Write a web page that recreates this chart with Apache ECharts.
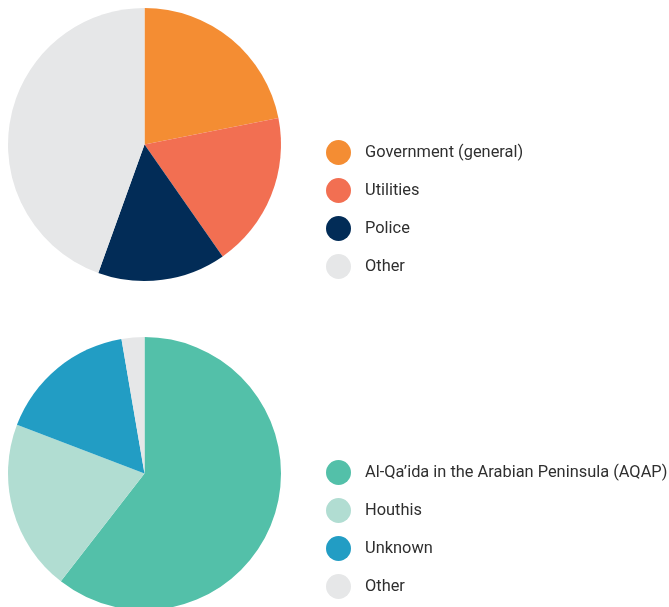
<!DOCTYPE html>
<html>
<head>
<meta charset="utf-8">
<script src="https://cdn.jsdelivr.net/npm/echarts@6/dist/echarts.min.js"></script>
<style>
html,body{margin:0;padding:0;background:#fff;}
#chart{width:669px;height:607px;}
</style>
</head>
<body>
<div id="chart"></div>
<script>
const targetNames = ["Government (general)", "Utilities", "Police", "Other"];
const targetValues = [21.9, 18.4, 15.2, 44.5];
const targetColors = ["#F48D33", "#F26F52", "#022C57", "#E6E7E8"];

const perpNames = ["Al-Qa\u2019ida in the Arabian Peninsula (AQAP)", "Houthis", "Unknown", "Other"];
const perpValues = [60.5, 20.3, 16.5, 2.7];
const perpColors = ["#53C0A9", "#B1DDD2", "#229DC4", "#E6E7E8"];

const font = "Roboto, 'Liberation Sans', sans-serif";

function toData(names, values, colors) {
  return names.map((n, i) => ({ name: n, value: values[i], itemStyle: { color: colors[i] } }));
}

const chart = echarts.init(document.getElementById('chart'), null, { renderer: 'canvas' });
const legendCommon = {
  orient: 'vertical',
  left: 326,
  padding: 0,
  height: 200,
  width: 343,
  icon: 'circle',
  itemWidth: 25,
  itemHeight: 25,
  itemGap: 13,
  selectedMode: false,
  textStyle: { fontFamily: font, fontSize: 16.4, color: '#2f2f2f', padding: [0, 0, 0, 9] }
};
chart.setOption({
  animation: false,
  backgroundColor: '#ffffff',
  legend: [
    Object.assign({}, legendCommon, { top: 140, data: targetNames }),
    Object.assign({}, legendCommon, { top: 460, data: perpNames })
  ],
  series: [
    {
      type: 'pie', name: 'Targets',
      center: [144.5, 144.5], radius: 136.5,
      startAngle: 90, clockwise: true,
      label: { show: false }, labelLine: { show: false },
      silent: true,
      itemStyle: { borderWidth: 0 },
      data: toData(targetNames, targetValues, targetColors)
    },
    {
      type: 'pie', name: 'Perpetrators',
      center: [144.5, 473.5], radius: 136.5,
      startAngle: 90, clockwise: true,
      label: { show: false }, labelLine: { show: false },
      silent: true,
      itemStyle: { borderWidth: 0 },
      data: toData(perpNames, perpValues, perpColors)
    }
  ]
});
</script>
</body>
</html>
